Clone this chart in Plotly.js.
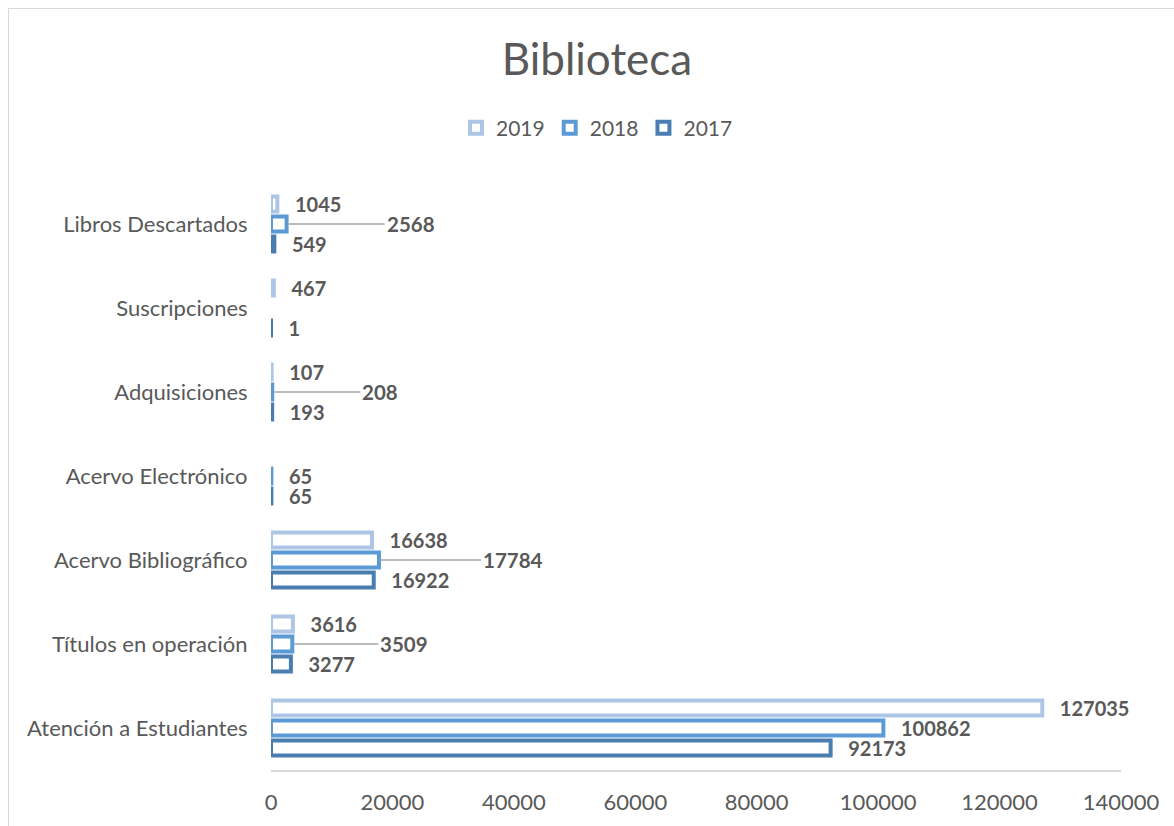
<!DOCTYPE html>
<html>
<head>
<meta charset="utf-8">
<script src="https://cdn.plot.ly/plotly-3.0.1.min.js"></script>
<style>
  html, body { margin: 0; padding: 0; background: #ffffff; }
  #wrap { position: relative; width: 1174px; height: 826px; overflow: hidden; }
  #chart { width: 1174px; height: 826px; }
  #frame { position: absolute; left: 8px; top: 8px; width: 1200px; height: 900px;
           border-left: 1.5px solid #D9D9D9; border-top: 1.5px solid #D9D9D9; pointer-events: none; }
</style>
</head>
<body>
<div id="wrap">
  <div id="chart"></div>
  <div id="frame"></div>
</div>
<script>
// ---- data ----
const categories = [
  "Atención a Estudiantes",
  "Títulos en operación",
  "Acervo Bibliográfico",
  "Acervo Electrónico",
  "Adquisiciones",
  "Suscripciones",
  "Libros Descartados"
];
const values2017 = [92173, 3277, 16922, 65, 193, 1, 549];
const values2018 = [100862, 3509, 17784, 65, 208, null, 2568];
const values2019 = [127035, 3616, 16638, null, 107, 467, 1045];
const seriesNames = ["2017", "2018", "2019"];
const xTickValues = [0, 20000, 40000, 60000, 80000, 100000, 120000, 140000];

// 2018 labels that are pulled out with a leader line (offset in px)
const leaderOffsets2018 = {
  "Libros Descartados": 98,
  "Adquisiciones": 88,
  "Acervo Bibliográfico": 102,
  "Títulos en operación": 86
};

const FONT = "Lato, 'Open Sans', sans-serif";
const TXT = "#595959";
const colors = ["#4A7EB0", "#5B9BD5", "#ADC6E5"];
const pad = "\u00a0\u00a0\u00a0";

function labels(vals, skip) {
  return vals.map((v, i) => (v === null || (skip && skip[categories[i]] !== undefined)) ? "" : pad + v);
}

const allVals = [values2017, values2018, values2019];
const traces = allVals.map((vals, k) => ({
  type: "bar",
  orientation: "h",
  name: seriesNames[k],
  y: categories,
  x: vals,
  text: labels(vals, k === 1 ? leaderOffsets2018 : null),
  textposition: "outside",
  constraintext: "none",
  cliponaxis: false,
  textfont: { family: FONT, size: 20, color: TXT, weight: "bold" },
  marker: { color: "#ffffff", line: { color: colors[k], width: 4 } },
  hoverinfo: "x+name"
}));

const annotations = categories.map((c, i) => {
  if (leaderOffsets2018[c] === undefined || values2018[i] === null) return null;
  return {
    x: values2018[i], y: c, xref: "x", yref: "y",
    text: String(values2018[i]),
    showarrow: true, arrowhead: 0, arrowwidth: 1.5, arrowcolor: "#A6A6A6",
    ax: leaderOffsets2018[c], ay: 0, xanchor: "left", yanchor: "middle",
    standoff: 2,
    font: { family: FONT, size: 20.5, color: TXT, weight: "bold" }
  };
}).filter(a => a);

const layout = {
  width: 1174, height: 826,
  margin: { l: 271, r: 53, t: 182, b: 56 },
  paper_bgcolor: "#ffffff", plot_bgcolor: "#ffffff",
  font: { family: FONT, color: TXT },
  title: {
    text: "Biblioteca",
    font: { family: FONT, size: 44, color: TXT },
    x: 0.5085, xref: "container", xanchor: "center",
    y: 1 - 60 / 826, yref: "container", yanchor: "middle"
  },
  barmode: "group",
  bargap: 0.286,
  bargroupgap: 0.25,
  showlegend: true,
  legend: {
    orientation: "h", traceorder: "reversed",
    x: 0.5085, xref: "container", xanchor: "center",
    y: 1 - 128 / 826, yref: "container", yanchor: "middle",
    font: { family: FONT, size: 21, color: TXT },
    itemwidth: 30, tracegroupgap: 0
  },
  xaxis: {
    range: [0, 140000],
    tickvals: xTickValues,
    ticktext: xTickValues.map(String),
    showgrid: false, zeroline: false,
    showline: true, linecolor: "#D9D9D9", linewidth: 1.5,
    ticks: "outside", ticklen: 12, tickcolor: "rgba(0,0,0,0)",
    tickfont: { family: FONT, size: 22, color: TXT },
    fixedrange: true
  },
  yaxis: {
    type: "category",
    categoryorder: "array", categoryarray: categories,
    showgrid: false, zeroline: false, showline: false,
    ticks: "outside", ticklen: 18, tickcolor: "rgba(0,0,0,0)",
    tickfont: { family: FONT, size: 22, color: TXT },
    fixedrange: true
  },
  annotations: annotations
};

Plotly.newPlot("chart", traces, layout, { displayModeBar: false, staticPlot: true });
</script>
</body>
</html>
